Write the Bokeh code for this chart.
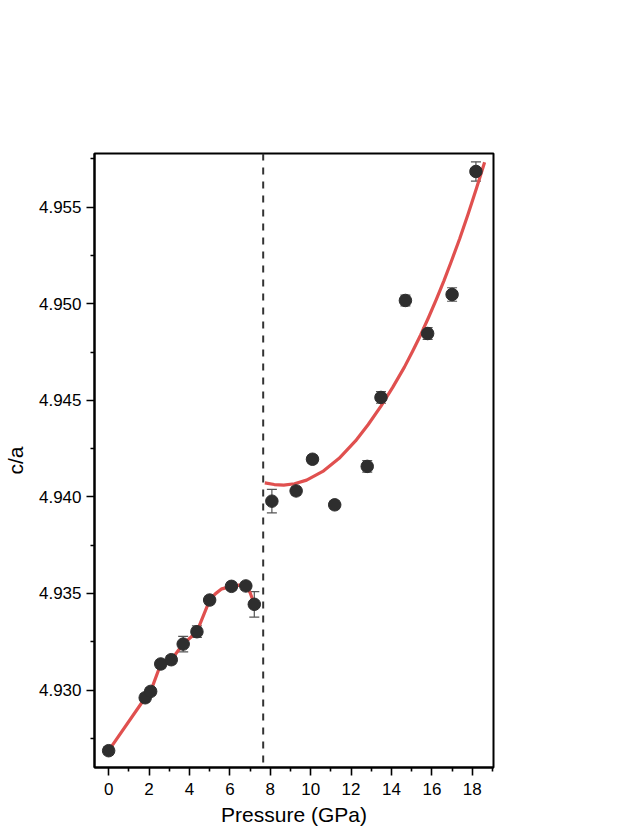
from bokeh.plotting import figure
from bokeh.models import (ColumnDataSource, Whisker, TeeHead, Span, Range1d,
                          FixedTicker, PrintfTickFormatter)
from bokeh.embed import file_html
from bokeh.resources import INLINE

# ---- data ----
pressure_low = [0.0, 1.81, 2.08, 2.58, 3.10, 3.69, 4.37, 5.00, 6.08, 6.79, 7.21]
ca_low = [4.92686, 4.92960, 4.92993, 4.93135, 4.93157, 4.93238, 4.93302,
          4.93466, 4.93537, 4.93539, 4.93444]
err_low = [0.0002, 0.0002, 0.0002, 0.0002, 0.0002, 0.0004, 0.0003,
           0.0002, 0.0002, 0.0002, 0.00066]

pressure_high = [8.08, 9.28, 10.09, 11.19, 12.80, 13.48, 14.69, 15.79, 17.00, 18.18]
ca_high = [4.93978, 4.94031, 4.94195, 4.93959, 4.94158, 4.94515, 4.95017,
           4.94846, 4.95048, 4.95685]
err_high = [0.00061, 0.0002, 0.0002, 0.0002, 0.0003, 0.0003, 0.00028,
            0.0003, 0.00035, 0.0005]

fit_low_p = [0.0, 1.81, 2.08, 2.58, 3.10, 3.69, 4.37, 5.00, 5.28, 5.60, 6.08,
             6.45, 6.79, 7.00, 7.21]
fit_low_ca = [4.92686, 4.92960, 4.92993, 4.93135, 4.93157, 4.93238, 4.93302,
              4.93466, 4.93498, 4.93524, 4.93537, 4.93543, 4.93539, 4.93505, 4.93444]

fit_high_p = [7.73, 8.20, 8.67, 9.20, 9.80, 10.60, 11.41, 12.22, 12.85, 13.48,
              14.06, 14.64, 15.04, 15.45, 15.84, 16.22, 16.60, 16.96, 17.38,
              17.79, 18.20, 18.61]
fit_high_ca = [4.94073, 4.94064, 4.94061, 4.94068, 4.94087, 4.94132, 4.94200,
               4.94290, 4.94375, 4.94470, 4.94567, 4.94672, 4.94753, 4.94840,
               4.94930, 4.95023, 4.95120, 4.95219, 4.95338, 4.95463, 4.95595,
               4.95733]

transition_p = 7.65

x_ticks = [0, 2, 4, 6, 8, 10, 12, 14, 16, 18]
x_minor = [1, 3, 5, 7, 9, 11, 13, 15, 17, 19]
y_ticks = [4.930, 4.935, 4.940, 4.945, 4.950, 4.955]
y_minor = [4.9275, 4.9325, 4.9375, 4.9425, 4.9475, 4.9525, 4.9575]
x_title = "Pressure (GPa)"
y_title = "c/a"

# ---- figure ----
FONT = "Liberation Sans"
p = figure(width=600, height=828, output_backend="svg", toolbar_location=None,
           x_range=Range1d(-0.70, 19.05), y_range=Range1d(4.92599, 4.95778),
           min_border_left=85, min_border_top=153, min_border_right=107,
           min_border_bottom=61)
p.grid.visible = False
p.outline_line_color = "black"
p.outline_line_width = 2
p.background_fill_color = "white"
p.border_fill_color = "white"

low = ColumnDataSource(dict(x=pressure_low, y=ca_low,
                            lo=[a - e for a, e in zip(ca_low, err_low)],
                            hi=[a + e for a, e in zip(ca_low, err_low)]))
high = ColumnDataSource(dict(x=pressure_high, y=ca_high,
                             lo=[a - e for a, e in zip(ca_high, err_high)],
                             hi=[a + e for a, e in zip(ca_high, err_high)]))

p.add_layout(Span(location=transition_p, dimension="height", line_color="#333333",
                  line_width=2, line_dash="7 7"))

red = "#E0504F"
p.line(fit_low_p, fit_low_ca, line_color=red, line_width=3.2, line_join="round")
p.line(fit_high_p, fit_high_ca, line_color=red, line_width=3.2, line_join="round")

for src in (low, high):
    w = Whisker(source=src, base="x", lower="lo", upper="hi",
                line_color="#555555", line_width=1.2,
                upper_head=TeeHead(size=10, line_color="#555555", line_width=1.2),
                lower_head=TeeHead(size=10, line_color="#555555", line_width=1.2))
    p.add_layout(w)
    p.scatter("x", "y", source=src, size=12.5, fill_color="#2e2e2e",
              line_color="#2e2e2e")

# ---- axes ----
p.xaxis.ticker = FixedTicker(ticks=x_ticks, minor_ticks=x_minor)
p.yaxis.ticker = FixedTicker(ticks=y_ticks, minor_ticks=y_minor)
p.yaxis.formatter = PrintfTickFormatter(format="%.3f")
p.xaxis.axis_label = x_title
p.yaxis.axis_label = y_title
for ax in (p.xaxis, p.yaxis):
    ax.axis_line_color = "black"
    ax.axis_line_width = 2
    ax.major_tick_line_color = "black"
    ax.major_tick_line_width = 1.6
    ax.minor_tick_line_color = "black"
    ax.minor_tick_line_width = 1.6
    ax.major_tick_out = 8
    ax.major_tick_in = 0
    ax.minor_tick_out = 4
    ax.minor_tick_in = 0
    ax.major_label_text_font = FONT
    ax.major_label_text_font_size = "17px"
    ax.major_label_text_color = "black"
    ax.axis_label_text_font = FONT
    ax.axis_label_text_font_size = "21px"
    ax.axis_label_text_font_style = "normal"
    ax.axis_label_text_color = "black"
p.xaxis.major_label_standoff = 7
p.yaxis.major_label_standoff = 5
p.xaxis.axis_label_standoff = 5
p.yaxis.axis_label_standoff = 9

open("out.html", "w").write(file_html(p, INLINE))
